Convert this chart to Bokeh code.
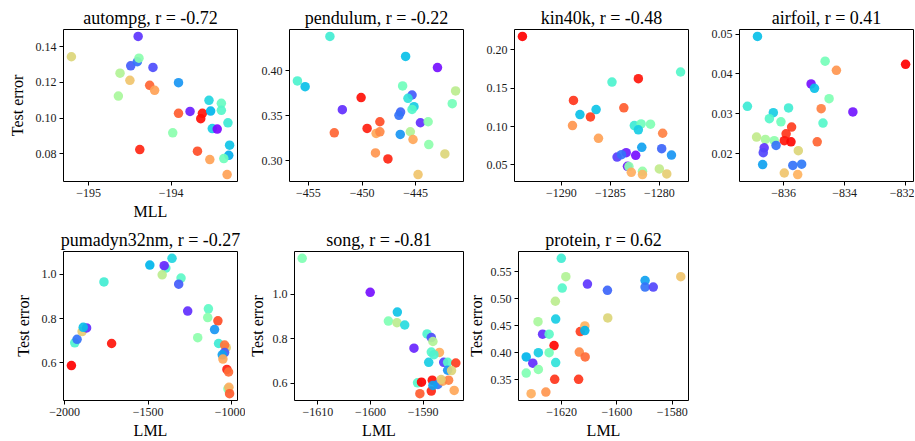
import math
from bokeh.plotting import figure
from bokeh.layouts import row, column
from bokeh.models import Range1d, FixedTicker, ColumnDataSource, CustomJSTickFormatter
from bokeh.transform import linear_cmap
from bokeh.embed import file_html
from bokeh.resources import INLINE

# ---------------- data ----------------
autompg_x = [-195.21, -194.40, -194.49, -194.41, -194.39, -194.22, -194.62, -194.50, -194.26, -194.20,
             -194.64, -193.91, -193.91, -193.77, -193.62, -193.64, -193.54, -193.52, -193.39, -193.39,
             -193.31, -193.50, -193.44, -193.98, -194.38, -193.68, -193.53, -193.29, -193.30, -193.36, -193.32]
autompg_y = [0.1344, 0.1458, 0.1293, 0.1316, 0.1336, 0.1284, 0.1252, 0.1212, 0.1184, 0.1156,
             0.1124, 0.1199, 0.1027, 0.1038, 0.1027, 0.0997, 0.1100, 0.1040, 0.1083, 0.1044,
             0.0974, 0.0942, 0.0939, 0.0918, 0.0824, 0.0815, 0.0768, 0.0849, 0.0792, 0.0774, 0.0684]
autompg_c = [0.68, 0.07, 0.12, 0.15, 0.52, 0.10, 0.60, 0.72, 0.87, 0.78,
             0.58, 0.20, 0.88, 0.04, 0.97, 0.98, 0.32, 0.25, 0.45, 0.42,
             0.37, 0.30, 0.01, 0.52, 0.95, 0.90, 0.78, 0.28, 0.24, 0.47, 0.78]

pendulum_x = [-453.0, -456.03, -455.31, -451.84, -450.09, -452.59, -449.53, -448.34, -448.69, -448.34,
              -448.75, -447.59, -445.94, -442.97, -446.22, -445.34, -445.72, -441.28, -441.59, -445.16,
              -445.34, -446.41, -446.56, -444.56, -443.84, -446.44, -445.50, -445.25, -443.78, -442.28, -444.78]
pendulum_y = [0.4383, 0.3888, 0.3825, 0.3569, 0.3703, 0.3312, 0.3361, 0.3435, 0.3305, 0.3323,
              0.3089, 0.3022, 0.4160, 0.4037, 0.3833, 0.3732, 0.3695, 0.3777, 0.3636, 0.3602,
              0.3572, 0.3543, 0.3506, 0.3424, 0.3435, 0.3294, 0.3324, 0.3238, 0.3182, 0.3078, 0.2848]
pendulum_c = [0.38, 0.40, 0.27, 0.06, 0.98, 0.87, 0.96, 0.90, 0.77, 0.82,
              0.80, 0.95, 0.27, 0.02, 0.47, 0.12, 0.35, 0.62, 0.48, 0.30,
              0.42, 0.13, 0.15, 0.06, 0.52, 0.20, 0.60, 0.77, 0.53, 0.68, 0.72]

kin40k_x = [-1293.97, -1282.14, -1284.83, -1288.76, -1288.10, -1286.45, -1287.03, -1283.62, -1288.86, -1286.21,
            -1282.55, -1281.86, -1280.90, -1282.14, -1279.66, -1277.83, -1281.79, -1279.76, -1278.76, -1283.38,
            -1284.31, -1283.86, -1282.41, -1283.25, -1283.10, -1282.86, -1281.72, -1281.72, -1280.00, -1279.24]
kin40k_y = [0.2175, 0.1624, 0.1580, 0.1340, 0.1156, 0.1222, 0.1126, 0.1244, 0.1013, 0.0847,
            0.1013, 0.1035, 0.1031, 0.0957, 0.0913, 0.1711, 0.0730, 0.0712, 0.0629, 0.0660,
            0.0603, 0.0634, 0.0625, 0.0482, 0.0478, 0.0404, 0.0417, 0.0374, 0.0448, 0.0382]
kin40k_c = [1.00, 0.97, 0.40, 0.93, 0.27, 0.28, 0.92, 0.88, 0.80, 0.78,
            0.37, 0.47, 0.50, 0.30, 0.83, 0.42, 0.22, 0.13, 0.20, 0.04,
            0.08, 0.15, 0.02, 0.03, 0.52, 0.76, 0.54, 0.74, 0.63, 0.70]

airfoil_x = [-836.86, -837.19, -836.34, -836.47, -836.09, -835.84, -834.64, -834.27, -835.10, -834.99,
             -834.51, -834.77, -834.71, -833.73, -832.00, -835.74, -835.92, -835.98, -835.76, -834.90,
             -836.89, -836.60, -836.31, -836.25, -836.64, -836.67, -835.52, -836.69, -835.70, -835.41,
             -835.98, -835.54]
airfoil_y = [0.0494, 0.0319, 0.0303, 0.0288, 0.0280, 0.0315, 0.0432, 0.0409, 0.0375, 0.0364,
             0.0338, 0.0313, 0.0277, 0.0305, 0.0424, 0.0267, 0.0250, 0.0233, 0.0230, 0.0230,
             0.0242, 0.0236, 0.0233, 0.0221, 0.0215, 0.0203, 0.0208, 0.0173, 0.0171, 0.0174,
             0.0152, 0.0148]
airfoil_c = [0.27, 0.37, 0.30, 0.42, 0.47, 0.38, 0.48, 0.80, 0.02, 0.27,
             0.50, 0.83, 0.42, 0.03, 1.00, 0.92, 0.93, 0.97, 0.99, 0.87,
             0.63, 0.58, 0.53, 0.15, 0.07, 0.09, 0.68, 0.22, 0.15, 0.16,
             0.72, 0.75]

pumadyn_x = [-1960, -1940, -1926, -1896, -1869, -1889, -1719, -1765, -1490, -1394,
             -1404, -1357, -1416, -1303, -1317, -1263, -1139, -1143, -1203, -1082,
             -1102, -1078, -1032, -1042, -1042, -1056, -1052, -1028, -1018, -1022,
             -1016, -1012]
pumadyn_y = [0.5883, 0.6909, 0.7070, 0.7421, 0.7582, 0.7611, 0.6879, 0.9663, 1.0425, 1.0290,
             1.0396, 1.0733, 0.9985, 0.9839, 0.9560, 0.8344, 0.8447, 0.8052, 0.7143, 0.7905,
             0.7509, 0.6879, 0.6689, 0.6806, 0.6469, 0.6366, 0.6176, 0.5707, 0.5590, 0.4828,
             0.4901, 0.4608]
pumadyn_c = [1.00, 0.40, 0.15, 0.70, 0.06, 0.27, 0.97, 0.38, 0.25, 0.40,
             0.05, 0.32, 0.62, 0.43, 0.12, 0.06, 0.44, 0.52, 0.53, 0.90,
             0.20, 0.37, 0.70, 0.85, 0.12, 0.22, 0.77, 0.96, 0.86, 0.50,
             0.76, 0.88]

song_x = [-1612.98, -1600.06, -1594.90, -1596.60, -1594.97, -1593.50, -1589.25, -1588.45, -1588.14, -1591.74,
          -1588.45, -1586.90, -1587.95, -1588.94, -1586.09, -1585.34, -1583.79, -1585.34, -1584.60, -1591.06,
          -1590.31, -1588.26, -1588.45, -1590.62, -1587.20, -1586.27, -1585.16, -1586.58, -1584.10, -1588.14]
song_y = [1.1620, 1.0089, 0.9197, 0.8796, 0.8721, 0.8617, 0.8216, 0.8053, 0.7874, 0.7576,
          0.7398, 0.7383, 0.7279, 0.6937, 0.6937, 0.6937, 0.6907, 0.6580, 0.6565, 0.6015,
          0.6045, 0.6134, 0.5643, 0.5524, 0.5941, 0.6089, 0.6134, 0.6164, 0.5673, 0.5897]
song_c = [0.50, 0.02, 0.28, 0.50, 0.62, 0.33, 0.40, 0.10, 0.60, 0.05,
          0.42, 0.76, 0.40, 0.30, 0.08, 0.42, 0.92, 0.20, 0.68, 0.42,
          1.00, 0.98, 0.95, 0.88, 0.15, 0.77, 0.83, 0.70, 0.77, 0.22]

protein_x = [-1620.10, -1618.46, -1619.76, -1622.25, -1622.13, -1628.52, -1626.86, -1624.50, -1622.72, -1624.50,
             -1628.40, -1632.78, -1630.40, -1622.13, -1628.40, -1632.78, -1622.49, -1631.00, -1625.68, -1610.65,
             -1603.43, -1603.31, -1613.25, -1611.60, -1611.60, -1613.60, -1611.48, -1613.85, -1589.82, -1589.82,
             -1586.86, -1576.92]
protein_y = [0.5749, 0.5409, 0.5198, 0.4953, 0.4622, 0.4574, 0.4343, 0.4343, 0.4131, 0.4000,
             0.4000, 0.3921, 0.3805, 0.3817, 0.3690, 0.3623, 0.3507, 0.3240, 0.3271, 0.5271,
             0.5155, 0.4644, 0.4392, 0.4495, 0.4410, 0.4012, 0.3921, 0.3507, 0.5337, 0.5216,
             0.5216, 0.5409]
protein_c = [0.38, 0.60, 0.42, 0.62, 0.30, 0.58, 0.06, 0.43, 0.99, 0.48,
             0.30, 0.25, 0.06, 0.35, 0.52, 0.50, 0.93, 0.76, 0.80, 0.07,
             0.13, 0.68, 0.92, 0.75, 0.25, 0.82, 0.86, 0.93, 0.22, 0.15,
             0.09, 0.72]

titles = ["autompg, r = -0.72", "pendulum, r = -0.22", "kin40k, r = -0.48", "airfoil, r = 0.41",
          "pumadyn32nm, r = -0.27", "song, r = -0.81", "protein, r = 0.62"]

autompg_xticks, autompg_xlabels = [-195, -194], ["\u2212195", "\u2212194"]
autompg_yticks, autompg_ylabels = [0.08, 0.10, 0.12, 0.14], ["0.08", "0.10", "0.12", "0.14"]
pendulum_xticks, pendulum_xlabels = [-455, -450, -445], ["\u2212455", "\u2212450", "\u2212445"]
pendulum_yticks, pendulum_ylabels = [0.30, 0.35, 0.40], ["0.30", "0.35", "0.40"]
kin40k_xticks, kin40k_xlabels = [-1290, -1285, -1280], ["\u22121290", "\u22121285", "\u22121280"]
kin40k_yticks, kin40k_ylabels = [0.05, 0.10, 0.15, 0.20], ["0.05", "0.10", "0.15", "0.20"]
airfoil_xticks, airfoil_xlabels = [-836, -834, -832], ["\u2212836", "\u2212834", "\u2212832"]
airfoil_yticks, airfoil_ylabels = [0.02, 0.03, 0.04, 0.05], ["0.02", "0.03", "0.04", "0.05"]
pumadyn_xticks, pumadyn_xlabels = [-2000, -1500, -1000], ["\u22122000", "\u22121500", "\u22121000"]
pumadyn_yticks, pumadyn_ylabels = [0.6, 0.8, 1.0], ["0.6", "0.8", "1.0"]
song_xticks, song_xlabels = [-1610, -1600, -1590], ["\u22121610", "\u22121600", "\u22121590"]
song_yticks, song_ylabels = [0.6, 0.8, 1.0], ["0.6", "0.8", "1.0"]
protein_xticks, protein_xlabels = [-1620, -1600, -1580], ["\u22121620", "\u22121600", "\u22121580"]
protein_yticks, protein_ylabels = [0.35, 0.40, 0.45, 0.50, 0.55], ["0.35", "0.40", "0.45", "0.50", "0.55"]

# ---------------- style ----------------
FONT = "Liberation Serif"


def rainbow(t):
    r = min(1.0, abs(2 * t - 0.5))
    g = max(0.0, math.sin(math.pi * t))
    b = max(0.0, math.cos(math.pi * t / 2))
    return "#%02x%02x%02x" % (round(255 * r), round(255 * g), round(255 * b))


PALETTE = [rainbow(i / 255) for i in range(256)]

FMT_CODE = """
let best = 0;
for (let i = 1; i < tvals.length; i++) {
  if (Math.abs(tvals[i] - tick) < Math.abs(tvals[best] - tick)) best = i;
}
return tlabels[best];
"""


def make_fig(title, xs, ys, cs, xt, xl, yt, yl, xlabel, ylabel, width, height, bl, br, bt, bb,
             ylab_standoff=7):
    xpad = 0.05 * (max(xs) - min(xs))
    ypad = 0.05 * (max(ys) - min(ys))
    p = figure(width=width, height=height, output_backend="svg", toolbar_location=None,
               x_range=Range1d(min(xs) - xpad, max(xs) + xpad),
               y_range=Range1d(min(ys) - ypad, max(ys) + ypad),
               min_border_left=bl, min_border_right=br, min_border_top=bt, min_border_bottom=bb)
    p.title.text = title
    p.title.text_font = FONT
    p.title.text_font_size = "18px"
    p.title.text_font_style = "normal"
    p.title.text_color = "black"
    p.title.align = "center"
    p.title.standoff = 4
    p.grid.visible = False
    p.outline_line_color = "black"
    p.outline_line_alpha = 1.0
    p.outline_line_width = 1
    p.background_fill_color = "white"
    p.border_fill_color = "white"

    src = ColumnDataSource(dict(x=xs, y=ys, c=cs))
    p.scatter("x", "y", source=src, size=9.5, line_color=None, fill_alpha=0.92,
              fill_color=linear_cmap("c", PALETTE, 0.0, 1.0))

    for ax, tv, tl in ((p.xaxis[0], xt, xl), (p.yaxis[0], yt, yl)):
        ax.ticker = FixedTicker(ticks=tv)
        ax.formatter = CustomJSTickFormatter(args=dict(tvals=tv, tlabels=tl), code=FMT_CODE)
        ax.axis_line_color = None
        ax.major_tick_line_color = "black"
        ax.major_tick_out = 4
        ax.major_tick_in = 0
        ax.minor_tick_line_color = None
        ax.major_label_text_font = FONT
        ax.major_label_text_font_size = "12px"
        ax.major_label_text_color = "#1a1a1a"
        ax.major_label_standoff = 3
        ax.axis_label_text_font = FONT
        ax.axis_label_text_font_size = "16px"
        ax.axis_label_text_font_style = "normal"
        ax.axis_label_text_color = "black"
        ax.axis_label_standoff = 3
    p.yaxis[0].axis_label_standoff = ylab_standoff
    if xlabel:
        p.xaxis.axis_label = xlabel
    if ylabel:
        p.yaxis.axis_label = ylabel
    return p


# row 1: frames at x = 63, 289, 514, 739 (width 174), y = 29..181
f1 = make_fig(titles[0], autompg_x, autompg_y, autompg_c, autompg_xticks, autompg_xlabels,
              autompg_yticks, autompg_ylabels, "MLL", "Test error", 258, 225, 63, 21, 29, 44)
f2 = make_fig(titles[1], pendulum_x, pendulum_y, pendulum_c, pendulum_xticks, pendulum_xlabels,
              pendulum_yticks, pendulum_ylabels, None, None, 225, 225, 31, 20, 29, 44)
f3 = make_fig(titles[2], kin40k_x, kin40k_y, kin40k_c, kin40k_xticks, kin40k_xlabels,
              kin40k_yticks, kin40k_ylabels, None, None, 225, 225, 31, 20, 29, 44)
f4 = make_fig(titles[3], airfoil_x, airfoil_y, airfoil_c, airfoil_xticks, airfoil_xlabels,
              airfoil_yticks, airfoil_ylabels, None, None, 206, 225, 31, 1, 29, 44)
# row 2: frames at x = 63, 289, 514, y = 249..401
f5 = make_fig(titles[4], pumadyn_x, pumadyn_y, pumadyn_c, pumadyn_xticks, pumadyn_xlabels,
              pumadyn_yticks, pumadyn_ylabels, "LML", "Test error", 245, 216, 63, 8, 24, 40)
f6 = make_fig(titles[5], song_x, song_y, song_c, song_xticks, song_xlabels,
              song_yticks, song_ylabels, "LML", "Test error", 219, 216, 44, 1, 24, 40,
              ylab_standoff=4)
f7 = make_fig(titles[6], protein_x, protein_y, protein_c, protein_xticks, protein_xlabels,
              protein_yticks, protein_ylabels, "LML", "Test error", 265, 216, 50, 41, 24, 40,
              ylab_standoff=3)

layout = column(row(f1, f2, f3, f4), row(f5, f6, f7))
open("out.html", "w").write(file_html(layout, INLINE))
